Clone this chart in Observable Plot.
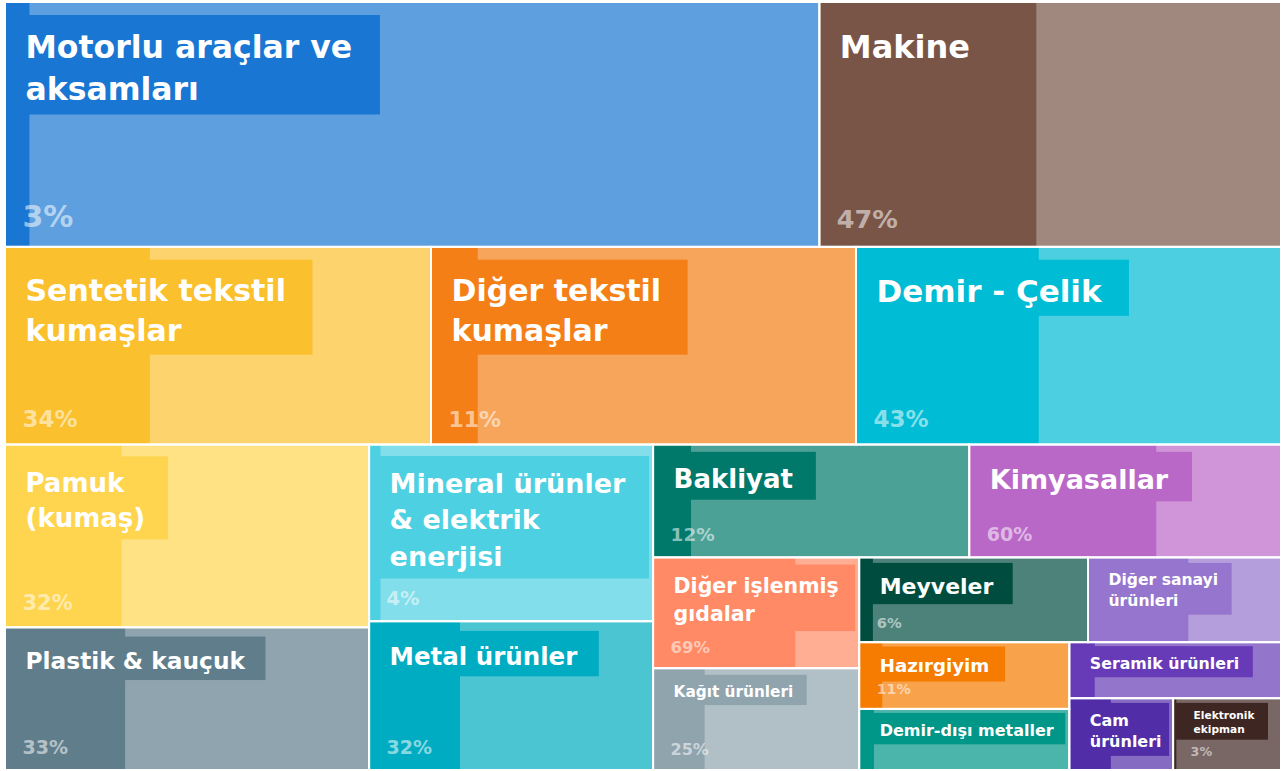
<!DOCTYPE html>
<html>
<head>
<meta charset="utf-8">
<script src="https://cdn.jsdelivr.net/npm/d3@7"></script>
<script src="https://cdn.jsdelivr.net/npm/@observablehq/plot@0.6"></script>
<style>
  html, body { margin: 0; padding: 0; background: #ffffff; }
  #chart svg { display: block; }
</style>
</head>
<body>
<div id="chart"></div>
<script>
// ---- data ----
const categories = [
  "Motorlu araçlar ve\naksamları", "Makine",
  "Sentetik tekstil\nkumaşlar", "Diğer tekstil\nkumaşlar", "Demir - Çelik",
  "Pamuk\n(kumaş)", "Plastik & kauçuk",
  "Mineral ürünler\n& elektrik\nenerjisi", "Metal ürünler",
  "Bakliyat", "Kimyasallar",
  "Diğer işlenmiş\ngıdalar", "Kağıt ürünleri",
  "Meyveler", "Diğer sanayi\nürünleri",
  "Hazırgiyim", "Demir-dışı metaller",
  "Seramik ürünleri", "Cam\nürünleri", "Elektronik\nekipman"
];
// relative size of each sector (share of total, per mille)
const values = [
  203.4, 115.3,
  85.9, 85.7, 85.7,
  67.9, 53.0,
  51.2, 43.1,
  36.4, 35.9,
  23.3, 21.4,
  19.8, 16.7,
  14.3, 13.1,
  12.1, 7.6, 7.9
];
// percentage shown in each tile (dark portion)
const shares = [3, 47, 34, 11, 43, 32, 33, 4, 32, 12, 60, 69, 25, 6, 52, 11, 7, 12, 40, 3];
const shareShown = [1, 1, 1, 1, 1, 1, 1, 1, 1, 1, 1, 1, 1, 1, 0, 1, 0, 0, 0, 1];
// nesting of the tiles: "h" = side by side, "v" = stacked
const nesting = ["v",
  ["h", 0, 1],
  ["h", 2, 3, 4],
  ["h", ["v", 5, 6], ["v", 7, 8],
    ["v", ["h", 9, 10],
      ["h", ["v", 11, 12],
        ["v", ["h", 13, 14],
          ["h", ["v", 15, 16], ["v", 17, ["h", 18, 19]]]]]]]
];

// ---- styles ----
const colors = [
  "#1976D2", "#795548",
  "#FBC02D", "#F57F17", "#00BCD4",
  "#FFD54F", "#607D8B",
  "#4DD0E1", "#00ACC1",
  "#00796B", "#BA68C8",
  "#FF8A65", "#90A4AE",
  "#004D40", "#9575CD",
  "#F57C00", "#009688",
  "#673AB7", "#512DA8", "#3E2723"
];
const labelSizes = [31.5, 32, 30, 30, 31, 26, 23.3, 27, 24.5, 26, 27, 20.5, 15.3, 22, 15.6, 18.2, 16, 15.8, 16, 10.6];
const shareSizes = [30, 25.5, 23, 22, 23, 21, 19, 19.4, 19, 18.4, 19, 16.5, 16, 14.7, 14, 14.2, 14, 14, 14, 12.7];
const FONT = "'DejaVu Sans', sans-serif";
const LH = 1.35;

// ---- layout ----
const W = 1283, H = 771, ml = 5, mt = 2, mr = 2, mb = 1;
const pw = W - ml - mr, ph = H - mt - mb;

function build(spec) {
  if (typeof spec === "number") return {i: spec};
  return {dir: spec[0], children: spec.slice(1).map(build)};
}
const root = d3.hierarchy(build(nesting)).sum(d => d.i !== undefined ? values[d.i] : 0);
d3.treemap()
  .size([pw, ph])
  .tile((node, x0, y0, x1, y1) =>
    (node.data.dir === "h" ? d3.treemapDice : d3.treemapSlice)(node, x0, y0, x1, y1))(root);

const ctx = document.createElement("canvas").getContext("2d");
function textWidth(str, size) {
  ctx.font = `bold ${size}px 'DejaVu Sans'`;
  return d3.max(str.split("\n"), s => ctx.measureText(s).width);
}

const PAD = 20;
const cells = root.leaves().map(n => {
  const i = n.data.i;
  const f = labelSizes[i];
  const w = n.x1 - n.x0, h = n.y1 - n.y0;
  const lines = categories[i].split("\n").length;
  const boxTop = n.y0 + Math.max(4, Math.min(13, 0.065 * h));
  const boxH = (lines - 1) * LH * f + 1.65 * f + 5;
  const boxW = Math.min(w - 4, PAD + textWidth(categories[i], f) + Math.max(14, 0.9 * f));
  return {
    i, name: categories[i], x0: n.x0, x1: n.x1, y0: n.y0, y1: n.y1,
    darkX: n.x0 + w * shares[i] / 100,
    boxTop, boxBottom: boxTop + boxH, boxRight: n.x0 + boxW,
    textX: n.x0 + PAD, textY: boxTop + 0.32 * f + 2,
    f, pf: shareSizes[i]
  };
});

const marks = [
  // light full tile
  Plot.rect(cells, {x1: "x0", x2: "x1", y1: "y0", y2: "y1", fill: d => colors[d.i], fillOpacity: 0.7}),
  // dark share strip
  Plot.rect(cells, {x1: "x0", x2: "darkX", y1: "y0", y2: "y1", fill: d => colors[d.i]}),
  // label background box
  Plot.rect(cells, {x1: "x0", x2: "boxRight", y1: "boxTop", y2: "boxBottom", fill: d => colors[d.i]}),
  // borders
  Plot.rect(cells, {x1: "x0", x2: "x1", y1: "y0", y2: "y1", fill: "none", stroke: "white", strokeWidth: 2})
];

for (const c of cells) {
  marks.push(Plot.text([c], {
    x: "textX", y: "textY", text: "name",
    fontSize: c.f, lineHeight: LH, lineAnchor: "top", textAnchor: "start",
    fill: "white", fontWeight: "bold", fontFamily: FONT
  }));
  if (shareShown[c.i]) {
    marks.push(Plot.text([c], {
      x: "x0", y: "y1", text: d => shares[d.i] + "%",
      dx: 17, dy: -(0.35 * c.pf + 10),
      fontSize: c.pf, lineAnchor: "bottom", textAnchor: "start",
      fill: "white", fillOpacity: 0.55, fontWeight: "bold", fontFamily: FONT
    }));
  }
}

const chart = Plot.plot({
  width: W, height: H,
  marginLeft: ml, marginTop: mt, marginRight: mr, marginBottom: mb,
  x: {domain: [0, pw], range: [ml, W - mr], axis: null},
  y: {domain: [0, ph], range: [mt, H - mb], axis: null},
  color: {type: "identity"},
  style: {background: "white", fontFamily: FONT},
  marks
});
document.getElementById("chart").appendChild(chart);
</script>
</body>
</html>
